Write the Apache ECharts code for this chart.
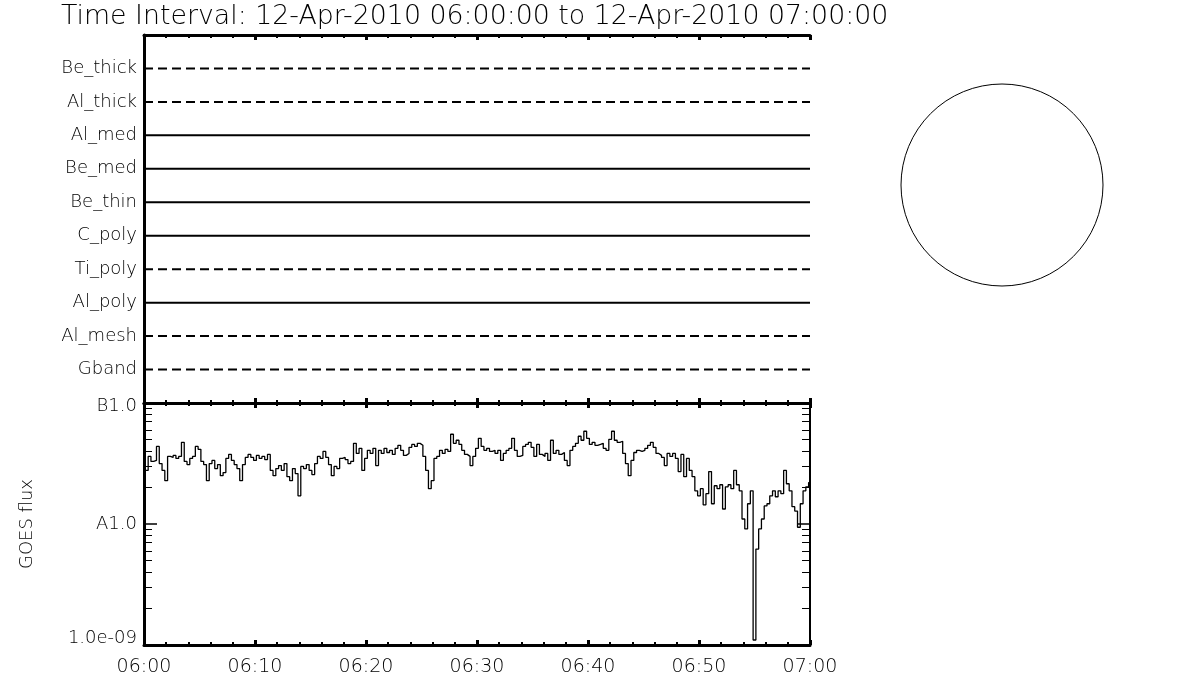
<!DOCTYPE html>
<html><head><meta charset="utf-8">
<script src="https://cdn.jsdelivr.net/npm/echarts@6/dist/echarts.min.js"></script>
<style>html,body{margin:0;padding:0;background:#fff}#chart{width:1200px;height:700px}</style>
</head><body><div id="chart"></div>
<script>
// ---------------- data ----------------
const titleText = 'Time Interval: 12-Apr-2010 06:00:00 to 12-Apr-2010 07:00:00';
const channelNames = ['Be_thick','Al_thick','Al_med','Be_med','Be_thin','C_poly','Ti_poly','Al_poly','Al_mesh','Gband'];
const channelDashed = [true, true, false, false, false, false, true, false, true, true];
const timeRange = [0, 60];              // minutes after 06:00
const xTickLabels = ['06:00','06:10','06:20','06:30','06:40','06:50','07:00'];
// flux values in units of 1e-9 W m^-2
const fluxRange = [1, 100];
const fluxTickLabels = { 1: '1.0e-09', 10: 'A1.0', 100: 'B1.0' };
const fluxMinorTicks = [2,3,4,5,6,7,8,9,20,30,40,50,60,70,80,90];
const goesCadenceMin = 0.25;            // one sample every 15 s
const goesFlux = [
34.8,27.7,36.2,32.9,33.5,43.8,31.6,27.7,22.8,36.2,
35.5,36.9,34.8,36.2,47.3,32.9,31.0,34.8,36.2,43.8,
41.4,32.9,31.0,22.8,31.6,33.5,28.7,31.0,25.1,26.6,
34.8,37.6,33.5,31.0,28.7,22.8,31.0,35.5,37.6,35.5,
33.5,36.9,34.8,36.2,34.1,37.6,27.7,25.1,28.7,30.4,
27.7,31.6,24.6,22.8,28.7,26.1,17.1,29.9,28.7,31.0,
27.7,25.6,31.6,36.2,34.8,39.8,35.5,31.0,25.1,29.9,
28.7,34.8,35.5,34.1,31.6,32.9,46.4,38.3,42.2,27.7,
34.8,40.6,38.3,42.2,30.4,40.6,38.3,42.2,39.0,40.6,
37.6,42.2,44.7,40.6,36.9,38.3,43.0,45.5,43.8,46.4,
44.7,36.2,27.7,19.6,22.8,34.8,36.2,40.6,38.3,41.4,
39.8,55.2,46.4,49.2,45.5,40.6,37.6,36.2,30.4,36.2,
42.2,51.1,43.8,40.6,42.2,39.8,40.6,38.3,40.6,33.5,
38.3,40.6,42.2,51.1,40.6,36.2,36.9,43.8,45.5,47.3,
43.0,36.2,45.5,37.6,36.2,38.3,33.5,49.2,38.3,40.6,
37.6,39.0,33.5,30.4,40.6,43.8,46.4,53.1,49.2,58.4,
51.1,45.5,47.3,44.7,45.5,46.4,42.2,40.6,50.1,58.4,
49.2,47.3,48.3,38.3,31.6,25.1,33.5,39.0,40.6,39.8,
40.6,42.2,44.7,47.3,43.0,38.3,36.9,35.5,30.4,38.3,
36.2,38.3,34.8,27.1,37.6,24.6,34.8,27.7,24.6,18.8,
17.1,19.6,14.4,17.8,27.1,14.7,20.7,19.6,21.1,13.3,
20.3,21.1,19.6,27.7,21.1,18.8,11.0,9.1,14.7,18.8,
1.1,6.2,9.1,11.0,14.1,14.7,17.1,18.8,16.8,18.8,
17.8,27.7,21.5,18.8,13.9,12.8,9.4,14.7,18.8,20.3,
22.0
];

// ---------------- chart ----------------
const FONT = 'DejaVu Sans';
const FW = 200;
const BLACK = '#000';
const chart = echarts.init(document.getElementById('chart'), null, { renderer: 'canvas' });

const goesData = goesFlux.map((v, i) => [timeRange[0] + i * goesCadenceMin, v]);

function timeAxis(grid, position, showLabels) {
  return {
    type: 'value', gridIndex: grid, position: position,
    min: timeRange[0], max: timeRange[1], interval: 10,
    axisLine: { show: true, onZero: false, lineStyle: { color: BLACK, width: 3 } },
    axisTick: { show: true, inside: true, length: 5, lineStyle: { color: BLACK, width: 3 } },
    minorTick: { show: true, splitNumber: 5, length: 3, lineStyle: { color: BLACK, width: 2 } },
    splitLine: { show: false }, minorSplitLine: { show: false },
    axisLabel: {
      show: showLabels, margin: 13, color: BLACK, fontFamily: FONT, fontWeight: FW, fontSize: 19,
      formatter: v => xTickLabels[Math.round((v - timeRange[0]) / 10)] || ''
    }
  };
}

function fluxAxis(position, major, withLabels) {
  const ax = {
    type: 'log', logBase: 10, gridIndex: 1, position: position,
    min: fluxRange[0], max: fluxRange[1],
    axisLine: { show: major, onZero: false, lineStyle: { color: BLACK, width: position === 'left' ? 3 : 2 } },
    axisTick: major
      ? { show: true, inside: true, length: 13, lineStyle: { color: BLACK, width: 1.5 } }
      : { show: true, inside: true, length: 8, customValues: fluxMinorTicks, lineStyle: { color: BLACK, width: 1 } },
    splitLine: { show: false },
    axisLabel: { show: false }
  };
  if (withLabels) {
    ax.axisLabel = {
      show: true, margin: 7, color: BLACK, fontFamily: FONT, fontWeight: FW, fontSize: 18,
      formatter: v => {
        const r = Math.round(v);
        const t = fluxTickLabels[r] || '';
        if (r === fluxRange[0]) return '{low|' + t + '}';
        if (r === fluxRange[1]) return '{high|' + t + '}';
        return t;
      },
      rich: {
        low: { fontFamily: FONT, fontWeight: FW, fontSize: 18, color: BLACK, padding: [0, 0, 14, 0] },
        high: { fontFamily: FONT, fontWeight: FW, fontSize: 18, color: BLACK, padding: [6, 0, 0, 0] }
      }
    };
    ax.name = 'GOES flux';
    ax.nameLocation = 'middle';
    ax.nameGap = 108;
    ax.nameTextStyle = { color: BLACK, fontFamily: FONT, fontWeight: FW, fontSize: 18 };
  }
  return ax;
}

const channelSeries = channelNames.map((name, k) => ({
  name: name, type: 'line', xAxisIndex: 0, yAxisIndex: 0,
  data: [[timeRange[0], k + 1], [timeRange[1], k + 1]],
  symbol: 'none', silent: true,
  lineStyle: { color: BLACK, width: 2, type: channelDashed[k] ? [9, 5] : 'solid' }
}));

const option = {
  animation: false,
  backgroundColor: '#fff',
  title: {
    text: titleText, left: 61, top: 4, padding: 0,
    textStyle: { color: BLACK, fontFamily: FONT, fontSize: 26.8, fontWeight: FW }
  },
  grid: [
    { left: 144, top: 35, width: 666, height: 368 },
    { left: 144, top: 403, width: 666, height: 242 }
  ],
  xAxis: [
    timeAxis(0, 'top', false),
    timeAxis(0, 'bottom', false),
    timeAxis(1, 'top', false),
    timeAxis(1, 'bottom', true)
  ],
  yAxis: [
    {
      type: 'value', gridIndex: 0, position: 'left', inverse: true,
      min: 0, max: channelNames.length + 1, interval: 1,
      axisLine: { show: true, lineStyle: { color: BLACK, width: 3 } },
      axisTick: { show: false }, splitLine: { show: false },
      axisLabel: {
        margin: 7, color: BLACK, fontFamily: FONT, fontWeight: FW, fontSize: 18,
        formatter: v => channelNames[v - 1] || ''
      }
    },
    {
      type: 'value', gridIndex: 0, position: 'right', inverse: true,
      min: 0, max: channelNames.length + 1, interval: 1,
      axisLine: { show: true, lineStyle: { color: BLACK, width: 2 } },
      axisTick: { show: false }, splitLine: { show: false }, axisLabel: { show: false }
    },
    fluxAxis('left', true, true),
    fluxAxis('left', false, false),
    fluxAxis('right', true, false),
    fluxAxis('right', false, false)
  ],
  graphic: [
    { type: 'circle', shape: { cx: 1002, cy: 185, r: 101 },
      style: { fill: 'none', stroke: BLACK, lineWidth: 1 }, silent: true }
  ],
  series: channelSeries.concat([
    {
      name: 'GOES', type: 'line', xAxisIndex: 3, yAxisIndex: 2,
      data: goesData, symbol: 'none', step: 'middle', silent: true,
      lineStyle: { color: BLACK, width: 1.3 }
    }
  ])
};
chart.setOption(option);
</script>
</body></html>
